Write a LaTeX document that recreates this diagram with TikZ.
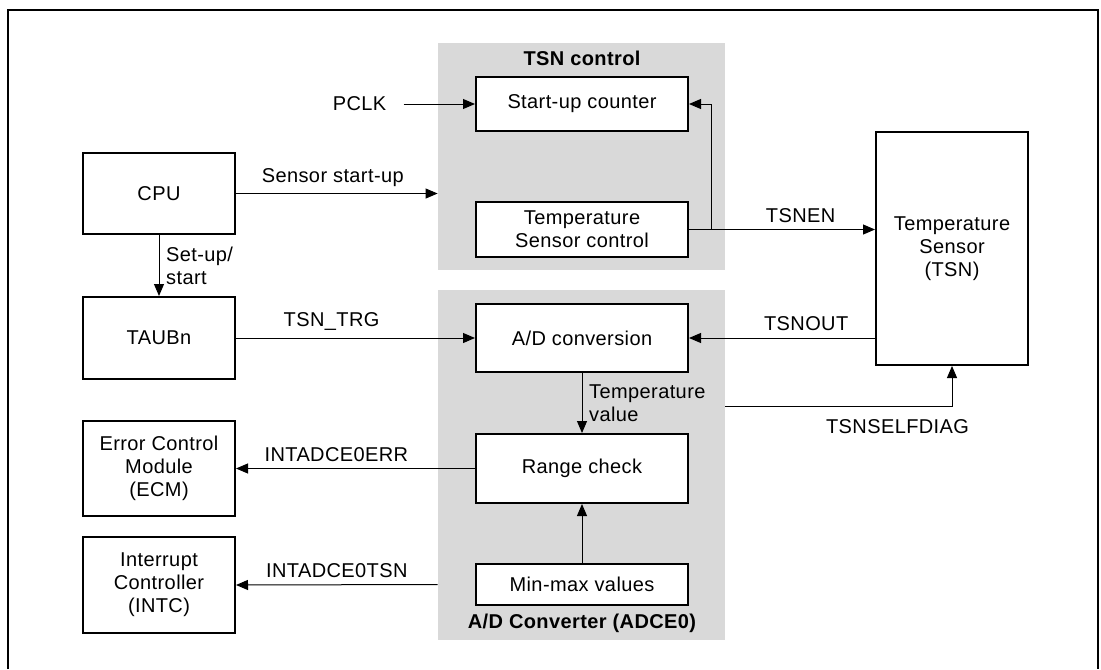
\documentclass[tikz,border=0pt]{standalone}
\usepackage{fontspec}
\setmainfont{Liberation Sans}[LetterSpace=2]
\usetikzlibrary{arrows.meta}
\definecolor{grpgray}{RGB}{217,217,217}

\begin{document}
\begin{tikzpicture}[x=0.5pt,y=-0.5pt,font=\fontsize{10}{11.5}\selectfont,
  blk/.style n args={2}{draw,line width=1pt,fill=white,minimum width=#1pt,minimum height=#2pt,align=center,inner sep=1pt},
  grp/.style n args={2}{fill=grpgray,minimum width=#1pt,minimum height=#2pt,inner sep=0pt},
  sig/.style={line width=0.5pt,-{Triangle[length=6pt,width=5pt]}},
  ttl/.style={font=\fontsize{10}{11.5}\selectfont\bfseries}]
\useasboundingbox (0,0) rectangle (1101,669);
\draw[line width=1pt] (8,669) -- (8,10) -- (1098,10) -- (1098,669);
% grey groups
\node[grp={143.5}{113.5}] (tsngrp) at (581.5,156.5) {};
\node[grp={143.5}{175}] (adcgrp) at (581.5,465) {};
\node[ttl] (tsnttl) at (582,58) {TSN control};
\node[ttl] (adcttl) at (582,623) {A/D Converter (ADCE0)};
% blocks
\node[blk={106}{27}] (startup) at (582,104) {Start-up counter};
\node[blk={106}{27.5}] (tsctrl) at (582,229.5) {Temperature\\Sensor control};
\node[blk={106}{34}] (adconv) at (582,338) {A/D conversion};
\node[blk={106}{34.5}] (range) at (582,468.5) {Range check};
\node[blk={106}{20.5}] (minmax) at (582,584.5) {Min-max values};
\node[blk={76}{40.5}] (cpu) at (159,193.5) {CPU};
\node[blk={76}{41}] (taub) at (159,338) {TAUBn};
\node[blk={76}{47.5}] (ecm) at (159,468.5) {Error Control\\Module\\(ECM)};
\node[blk={76}{48}] (intc) at (159,585) {Interrupt\\Controller\\(INTC)};
\node[blk={76}{116.5}] (tsn) at (952,248.5) {Temperature\\Sensor\\(TSN)};
\node[inner xsep=8.5pt] (pclk) at (359.5,104) {PCLK};
\coordinate (tap) at (711,229.5);
\coordinate (diag) at (725,406);
% signals
\draw[sig] (pclk.east) -- (startup.west);
\draw[sig] (cpu.east) -- node[pos=0.48,above] {Sensor start-up} (cpu.east -| tsngrp.west);
\draw[sig] (cpu.south) -- node[right,align=left] {Set-up/\\start} (taub.north);
\draw[sig] (tsctrl.east) -- node[pos=0.6,above] {TSNEN} (tsctrl.east -| tsn.west);
\draw[sig] (tap) |- (startup.east);
\draw[sig] (taub.east) -- node[pos=0.4,above] {TSN\_TRG} (adconv.west);
\draw[sig] (adconv.east -| tsn.west) -- node[pos=0.37,above] {TSNOUT} (adconv.east);
\draw[sig] (diag) -| node[pos=0.38,below=3pt] {TSNSELFDIAG} (tsn.south);
\draw[sig] (adconv.south) -- node[right,align=left] {Temperature\\value} (range.north);
\draw[sig] (range.west) -- node[pos=0.58,above] {INTADCE0ERR} (ecm.east);
\draw[sig] (minmax.north) -- (range.south);
\draw[sig] (minmax.west -| adcgrp.west) -- node[pos=0.5,above] {INTADCE0TSN} (intc.east);
\end{tikzpicture}
\end{document}
